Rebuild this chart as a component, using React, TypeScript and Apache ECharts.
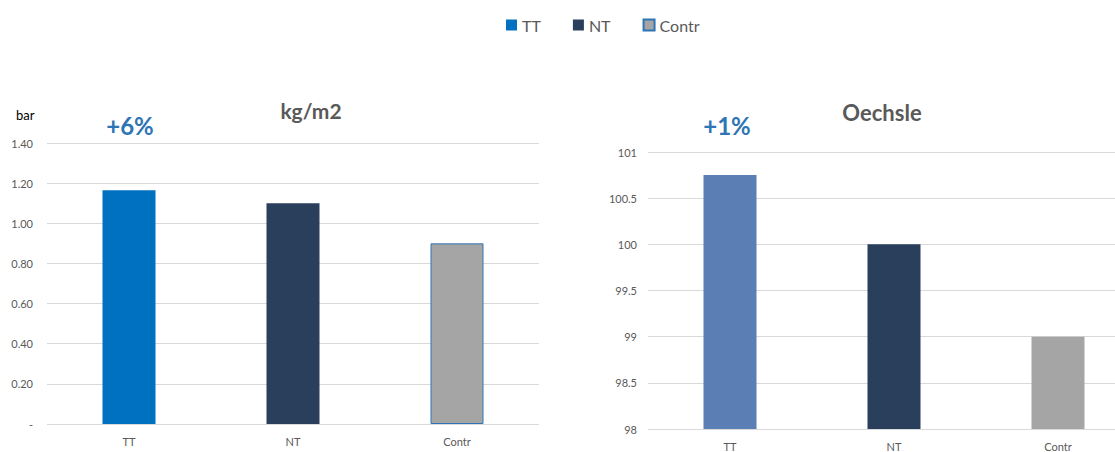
import React, { useEffect, useRef } from "react";
import * as echarts from "echarts";

const categories = ["TT", "NT", "Contr"];
const seriesNames = ["TT", "NT", "Contr"];
const kgValues = [1.165, 1.1, 0.9];
const oechsleValues = [100.75, 100, 99];
const leftTicks = { min: 0, max: 1.4, interval: 0.2 };
const rightTicks = { min: 98, max: 101, interval: 0.5 };
const leftColors = ["#0070C0", "#2A3F5C", "#A5A5A5"];
const rightColors = ["#5B7FB5", "#2A3F5C", "#A5A5A5"];
const leftTitle = "kg/m2";
const rightTitle = "Oechsle";
const leftNote = "+6%";
const rightNote = "+1%";
const unitLabel = "bar";

const FONT = "Lato, 'Liberation Sans', sans-serif";

export default function App() {
  const ref = useRef<HTMLDivElement>(null);
  useEffect(() => {
    if (!ref.current) return;
    const chart = echarts.init(ref.current, null, { renderer: "svg" });

    const makeSeries = (vals: number[], colors: string[], axisIdx: number, withBorder: boolean) =>
      seriesNames.map((name, i) => ({
        name,
        type: "bar",
        xAxisIndex: axisIdx,
        yAxisIndex: axisIdx,
        barWidth: 53,
        barGap: "-100%",
        data: vals.map((v, j) => (j === i ? v : "-")),
        itemStyle: {
          color: colors[i],
          borderColor: withBorder && i === 2 ? "#2E75B6" : undefined,
          borderWidth: withBorder && i === 2 ? 1 : 0,
        },
      }));

    const yCommon = {
      axisLine: { show: false },
      axisTick: { show: false },
      splitLine: { lineStyle: { color: "#D9D9D9", width: 1 } },
    };
    const xCommon = {
      type: "category",
      data: categories,
      axisLine: { show: false },
      axisTick: { show: false },
      axisLabel: { color: "#595959", fontSize: 11, fontFamily: FONT, margin: 12 },
    };

    const textEl = (text: string, x: number, y: number, size: number, fill: string) => ({
      type: "text",
      x,
      y,
      style: {
        text,
        fill,
        fontSize: size,
        fontWeight: "bold",
        fontFamily: FONT,
        align: "center",
        verticalAlign: "middle",
      },
    });

    chart.setOption({
      animation: false,
      textStyle: { fontFamily: FONT },
      legend: {
        data: seriesNames,
        left: 501,
        top: 12,
        itemWidth: 11,
        itemHeight: 11,
        itemGap: 32,
        icon: "rect",
        textStyle: { color: "#595959", fontSize: 16, fontFamily: FONT },
      },
      grid: [
        { left: 47, width: 492, top: 143, height: 281 },
        { left: 648, width: 492, top: 152, height: 279 },
      ],
      xAxis: [
        { ...xCommon, gridIndex: 0 },
        { ...xCommon, gridIndex: 1 },
      ],
      yAxis: [
        {
          ...yCommon,
          type: "value",
          gridIndex: 0,
          ...leftTicks,
          axisLabel: {
            color: "#595959",
            fontSize: 11,
            fontFamily: FONT,
            margin: 14,
            formatter: (v: number) => (v === 0 ? "-" : v.toFixed(2)),
          },
        },
        {
          ...yCommon,
          type: "value",
          gridIndex: 1,
          ...rightTicks,
          axisLabel: {
            color: "#595959",
            fontSize: 11,
            fontFamily: FONT,
            margin: 11,
            formatter: (v: number) => String(v),
          },
        },
      ],
      series: [
        ...makeSeries(kgValues, leftColors, 0, true),
        ...makeSeries(oechsleValues, rightColors, 1, false),
      ],
      graphic: [
        {
          type: "text",
          left: 16,
          top: 108,
          style: { text: unitLabel, fill: "#000", fontSize: 13, fontFamily: FONT },
        },
        textEl(leftNote, 130, 125, 24, "#2E75B6"),
        textEl(rightNote, 727, 125, 24, "#2E75B6"),
        textEl(leftTitle, 311, 110, 21, "#595959"),
        textEl(rightTitle, 882, 112, 22, "#595959"),
      ],
    });
    return () => chart.dispose();
  }, []);

  return (
    <div
      style={{
        position: "fixed",
        left: 0,
        top: 0,
        width: 1115,
        height: 452,
        overflow: "hidden",
        background: "#fff",
      }}
    >
      <div ref={ref} style={{ width: 1160, height: 452 }} />
    </div>
  );
}
